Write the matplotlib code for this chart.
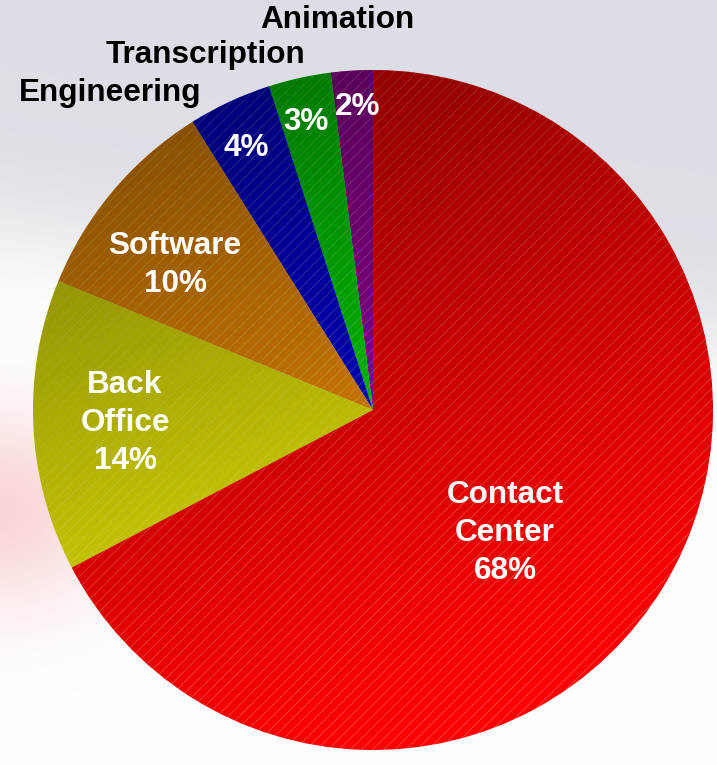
import matplotlib.pyplot as plt
import numpy as np
from matplotlib.patches import Circle

plt.rcParams['font.family'] = ['Liberation Sans', 'DejaVu Sans']
plt.rcParams['hatch.linewidth'] = 0.6

# data (counter-clockwise from the top)
labels = ['Animation', 'Transcription', 'Engineering', 'Software', 'Back Office', 'Contact Center']
shares = [2, 3, 4, 10, 14, 68]
colors = ['#a000a0', '#00dd00', '#0000dd', '#f59000', '#e8e800', '#ff0000']

W, H = 717, 765
cx, cy, r = 373, 410, 340

fig = plt.figure(figsize=(7.17, 7.65), dpi=100)
ax = fig.add_axes([0, 0, 1, 1])

# faint background (grey swirl on top, pink wash on the left)
yy, xx = np.mgrid[0:H, 0:W]
bg = np.ones((H, W, 3))
grey = 1 / (1 + np.exp((yy - 230 - 0.15 * xx) / 30))
pink = np.exp(-((xx / 120) ** 2) - ((yy - 510) / 100) ** 2)
bg = bg * (1 - grey[..., None]) + np.array([0.87, 0.87, 0.90]) * grey[..., None]
bg = bg * (1 - pink[..., None]) + np.array([0.98, 0.84, 0.84]) * pink[..., None]
ax.imshow(bg, extent=(0, W, 0, H), origin='upper', zorder=0)

# pie
wedges, _ = ax.pie(shares, colors=colors, startangle=90, counterclock=True,
                   center=(cx, H - cy), radius=r,
                   wedgeprops=dict(linewidth=0))
for w in wedges:
    w.set_hatch('///')
    w.set_edgecolor((1, 1, 1, 0.3))
    w.set_linewidth(0)
    w.set_zorder(1)

# shading, darker to the top-left
p = 0.35 * xx + yy
pmin = 0.35 * cx + cy - r * np.sqrt(1 + 0.35 ** 2)
pmax = 0.35 * cx + cy + r * np.sqrt(1 + 0.35 ** 2)
t = np.clip((p - pmin) / (pmax - pmin), 0, 1)
shade = np.zeros((H, W, 4))
shade[..., 3] = 0.45 * (1 - t) ** 1.2
im = ax.imshow(shade, extent=(0, W, 0, H), origin='upper', zorder=2)
im.set_clip_path(Circle((cx, H - cy), r, transform=ax.transData))

ax.set_xlim(0, W)
ax.set_ylim(0, H)
ax.axis('off')

# labels
fs = 22.7
inside = [('Contact\nCenter\n68%', 505, 533), ('Back\nOffice\n14%', 125, 423),
          ('Software\n10%', 175, 265), ('4%', 246, 148), ('3%', 306, 122), ('2%', 358, 107)]
for txt, x, y in inside:
    ax.text(x, H - y, txt, color='white', fontsize=fs, fontweight='bold',
            ha='center', va='center', linespacing=1.33, zorder=3)

outside = [('Engineering', 110, 93), ('Transcription', 205, 55), ('Animation', 337, 20)]
for txt, x, y in outside:
    ax.text(x, H - y, txt, color='black', fontsize=fs, fontweight='bold',
            ha='center', va='center', zorder=3)

plt.savefig('out.png', dpi=100)
